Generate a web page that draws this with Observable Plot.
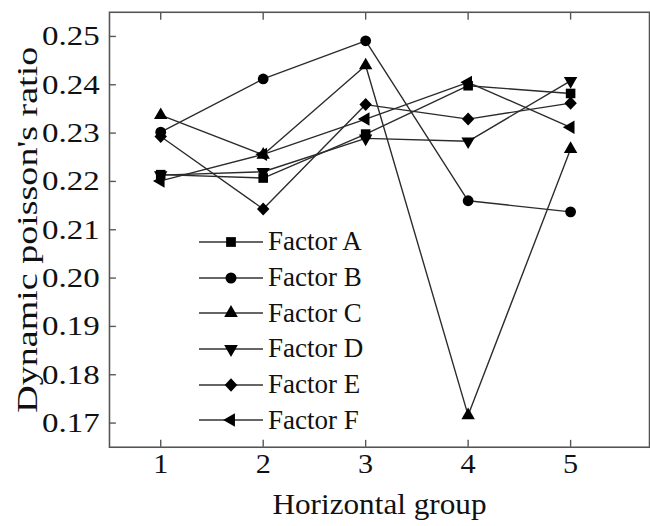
<!DOCTYPE html>
<html><head><meta charset="utf-8">
<script src="https://cdn.jsdelivr.net/npm/d3@7"></script>
<script src="https://cdn.jsdelivr.net/npm/@observablehq/plot@0.6"></script>
<style>
html,body{margin:0;padding:0;background:#fff;overflow:hidden;width:650px;height:526px;}
#wrap{position:relative;width:650px;height:526px;overflow:hidden;}
#chart svg{display:block;}
#legend{position:absolute;left:199px;top:224px;font-family:"Liberation Serif","Times New Roman",serif;font-size:27px;color:#111;}
.row{display:flex;align-items:center;height:35.7px;}
.row svg{width:66px;height:26px;margin-right:3px;overflow:visible;}
</style></head><body><div id="wrap"><div id="chart"></div><div id="legend"></div></div>
<script>
const groups = [1, 2, 3, 4, 5];
const factorNames = ["Factor A", "Factor B", "Factor C", "Factor D", "Factor E", "Factor F"];
const factorA = [0.2214, 0.2207, 0.2298, 0.2398, 0.2382];
const factorB = [0.2302, 0.2412, 0.2491, 0.2160, 0.2137];
const factorC = [0.2337, 0.2255, 0.2440, 0.1716, 0.2267];
const factorD = [0.2213, 0.2220, 0.2289, 0.2283, 0.2408];
const factorE = [0.2293, 0.2143, 0.2359, 0.2329, 0.2362];
const factorF = [0.2201, 0.2256, 0.2329, 0.2405, 0.2312];
const xTicks = [1, 2, 3, 4, 5];
const yTicks = [0.17, 0.18, 0.19, 0.20, 0.21, 0.22, 0.23, 0.24, 0.25];
const xLabel = "Horizontal group";
const yLabel = "Dynamic poisson's ratio";

const seriesValues = [factorA, factorB, factorC, factorD, factorE, factorF];
const data = [];
factorNames.forEach((name, i) => groups.forEach((g, j) => data.push({factor: name, group: g, value: seriesValues[i][j]})));

const sqrt3 = Math.sqrt(3);
const triUp = {draw(ctx, size) { const y = -Math.sqrt(size * 0.85 / (sqrt3 * 3)); ctx.moveTo(0, y * 2); ctx.lineTo(-sqrt3 * y, -y); ctx.lineTo(sqrt3 * y, -y); ctx.closePath(); }};
const triDown = {draw(ctx, size) { const y = -Math.sqrt(size * 0.85 / (sqrt3 * 3)); ctx.moveTo(0, -y * 2); ctx.lineTo(-sqrt3 * y, y); ctx.lineTo(sqrt3 * y, y); ctx.closePath(); }};
const triLeft = {draw(ctx, size) { const y = -Math.sqrt(size * 0.85 / (sqrt3 * 3)); ctx.moveTo(y * 2, 0); ctx.lineTo(-y, -sqrt3 * y); ctx.lineTo(-y, sqrt3 * y); ctx.closePath(); }};
const diamond = {draw(ctx, size) { const r = Math.sqrt(size / 2) * 0.92; ctx.moveTo(0, -r * 1.05); ctx.lineTo(r, 0); ctx.lineTo(0, r * 1.05); ctx.lineTo(-r, 0); ctx.closePath(); }};
const symbols = [d3.symbolSquare, d3.symbolCircle, triUp, triDown, diamond, triLeft];

const font = "'Liberation Serif', 'Times New Roman', serif";
const axisColor = "#555";

const chart = Plot.plot({
  width: 662,
  height: 526,
  marginLeft: 111,
  marginRight: 1,
  marginTop: 12,
  marginBottom: 71,
  style: {fontFamily: font, fontSize: "28px", color: "#111", background: "#fff", overflow: "visible"},
  x: {domain: [0.5, 5.77]},
  y: {domain: [0.165, 0.255]},
  symbol: {domain: factorNames, range: symbols},
  marks: [
    Plot.line(data, {x: "group", y: "value", z: "factor", stroke: "#2b2b2b", strokeWidth: 1.4}),
    Plot.dot(data, {x: "group", y: "value", symbol: "factor", r: 5.5, fill: "#000", stroke: "none"}),
    Plot.frame({stroke: axisColor, strokeWidth: 1.6}),
    Plot.axisY(yTicks, {anchor: "left", tickSize: -7, tickFormat: () => null, label: null, stroke: axisColor, strokeWidth: 1.4}),
    Plot.axisX(xTicks, {anchor: "top", tickSize: -7, tickFormat: () => null, label: null, stroke: axisColor, strokeWidth: 1.4}),
    Plot.axisX(xTicks, {anchor: "bottom", tickSize: -7, tickFormat: () => null, label: null, stroke: axisColor, strokeWidth: 1.4}),
    Plot.axisY(yTicks, {anchor: "left", tickSize: 0, tickPadding: 10, tickFormat: d3.format(".2f"), fontSize: 28, label: yLabel, labelAnchor: "center", labelOffset: 96, labelArrow: "none"}),
    Plot.axisX(xTicks, {anchor: "bottom", tickSize: 0, tickPadding: 6, tickFormat: d3.format("d"), fontSize: 28, label: xLabel, labelAnchor: "center", labelOffset: 68, labelArrow: "none"})
  ]
});
document.getElementById("chart").appendChild(chart);

// widen glyphs along the baseline to match the reference's wide serif lettering
function stretch(sel, s, size) {
  sel.each(function() {
    const t = d3.select(this);
    if (size) t.attr("font-size", size);
    const tr = t.attr("transform");
    if (tr) t.attr("transform", tr + ` scale(${s},1)`);
    else {
      const x = +t.attr("x") || 0, y = +t.attr("y") || 0;
      t.attr("transform", `translate(${x},${y}) scale(${s},1) translate(${-x},${-y})`);
    }
  });
}
const svg = d3.select(chart);
stretch(svg.selectAll("g[aria-label='y-axis tick label'] text"), 1.2);
stretch(svg.selectAll("g[aria-label='x-axis tick label'] text"), 1.1);
stretch(svg.selectAll("g[aria-label='y-axis label'] text"), 1.25, 31);
stretch(svg.selectAll("g[aria-label='x-axis label'] text"), 1.06, 30);

// legend
const legend = d3.select("#legend");
factorNames.forEach((name, i) => {
  const row = legend.append("div").attr("class", "row");
  const s = row.append("svg").attr("viewBox", "0 0 66 26");
  s.append("line").attr("x1", 0).attr("x2", 64).attr("y1", 13).attr("y2", 13).attr("stroke", "#333").attr("stroke-width", 1.4);
  s.append("path").attr("transform", "translate(32,13)").attr("d", d3.symbol(symbols[i], Math.PI * 5.5 * 5.5)()).attr("fill", "#000");
  row.append("span").text(name);
});
</script></body></html>
